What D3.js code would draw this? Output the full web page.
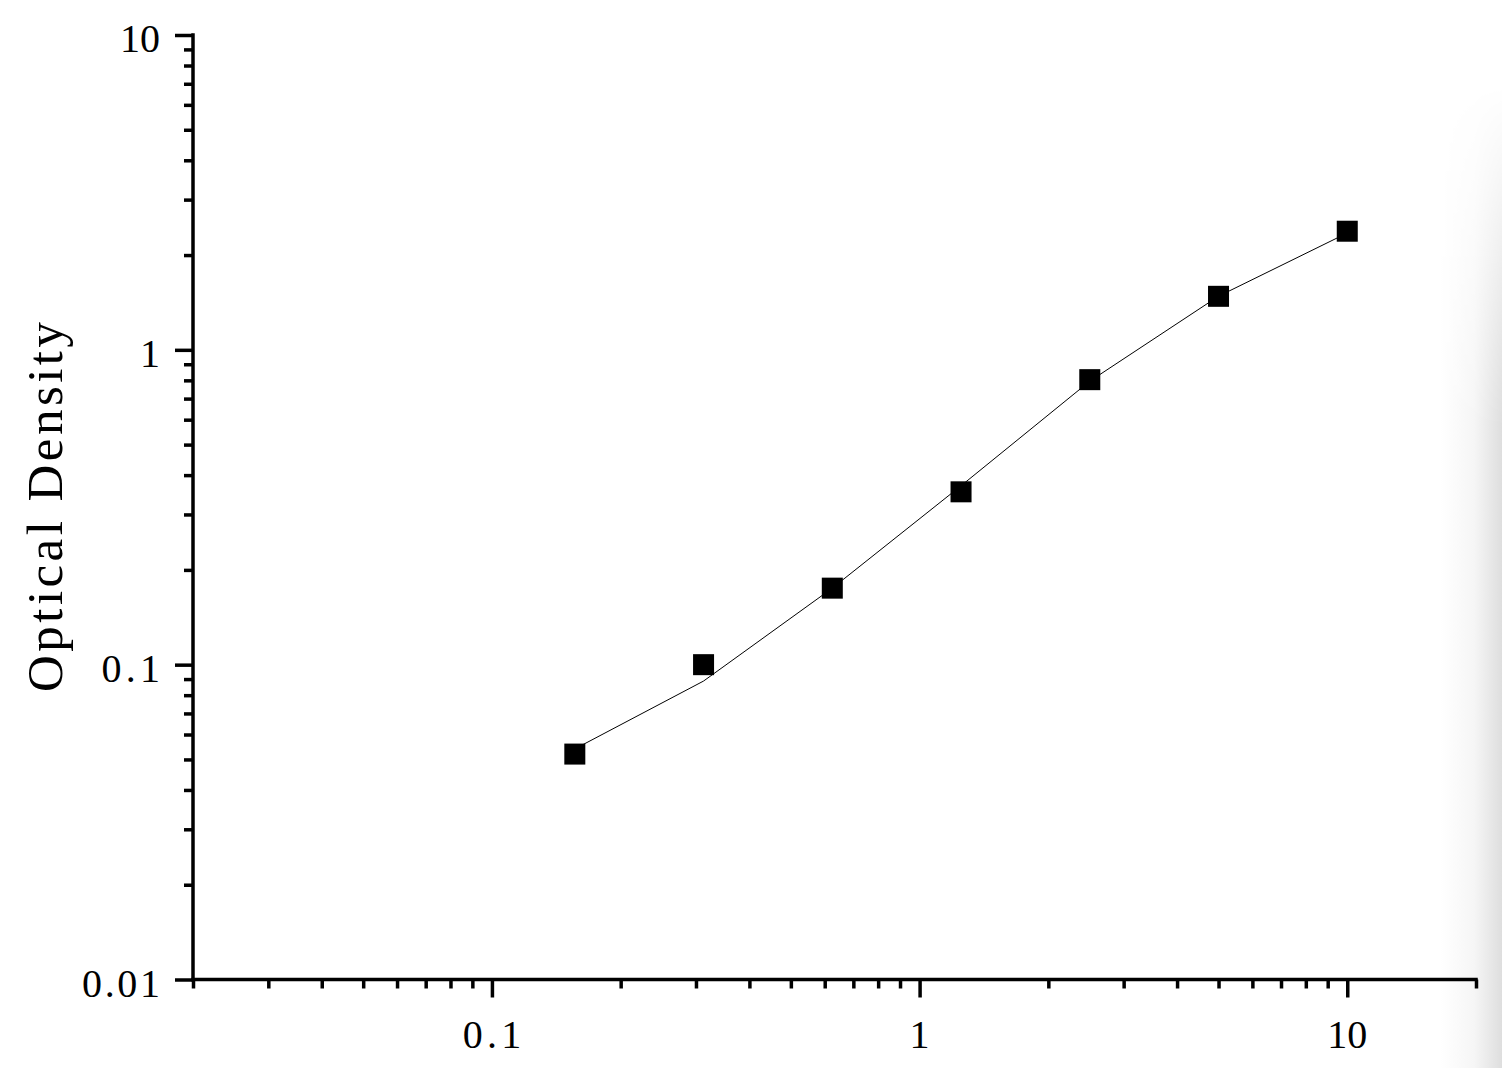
<!DOCTYPE html>
<html>
<head>
<meta charset="utf-8">
<script src="https://cdn.jsdelivr.net/npm/d3@7"></script>
<style>
  body { margin: 0; background: #fff; }
  svg { display: block; }
  text { font-family: "Liberation Serif", "DejaVu Serif", serif; fill: #000; }
</style>
</head>
<body>
<div id="chart"></div>
<script>
// standard concentrations (x) and measured optical density (y)
var concentrations = [0.15625, 0.3125, 0.625, 1.25, 2.5, 5, 10];
var odValues = [0.052, 0.100, 0.175, 0.354, 0.804, 1.479, 2.381];
// fitted curve as drawn, read at the same concentrations
var fittedValues = [0.054, 0.0887, 0.175, 0.370, 0.795, 1.48, 2.35];

var xMajorTicks = [0.1, 1, 10];
var xMinorTicks = [0.02, 0.03, 0.04, 0.05, 0.06, 0.07, 0.08, 0.09,
  0.2, 0.3, 0.4, 0.5, 0.6, 0.7, 0.8, 0.9,
  2, 3, 4, 5, 6, 7, 8, 9, 20];
var xTickLabels = ["0.1", "1", "10"];
var yMajorTicks = [0.01, 0.1, 1, 10];
var yMinorTicks = [0.02, 0.03, 0.04, 0.05, 0.06, 0.07, 0.08, 0.09,
  0.2, 0.3, 0.4, 0.5, 0.6, 0.7, 0.8, 0.9,
  2, 3, 4, 5, 6, 7, 8, 9];
var yTickLabels = ["0.01", "0.1", "1", "10"];
var yTitle = "Optical Density";

var width = 1506, height = 1068;

var svg = d3.select("#chart")
  .append("svg")
  .attr("width", width)
  .attr("height", height);

// soft page shadow on the right edge
var defs = svg.append("defs");
var hGrad = defs.append("linearGradient").attr("id", "hgrad")
  .attr("x1", 0).attr("x2", 1).attr("y1", 0).attr("y2", 0);
hGrad.append("stop").attr("offset", "0%").attr("stop-color", "#fff");
hGrad.append("stop").attr("offset", "55%").attr("stop-color", "#f6f6f6");
hGrad.append("stop").attr("offset", "100%").attr("stop-color", "#dedede");
var vGrad = defs.append("linearGradient").attr("id", "vgrad")
  .attr("x1", 0).attr("x2", 0).attr("y1", 0).attr("y2", 1);
vGrad.append("stop").attr("offset", "8%").attr("stop-color", "#fff").attr("stop-opacity", 0);
vGrad.append("stop").attr("offset", "40%").attr("stop-color", "#fff").attr("stop-opacity", 1);
var mask = defs.append("mask").attr("id", "shadeMask");
mask.append("rect").attr("x", 1440).attr("y", 0).attr("width", 66).attr("height", height)
  .attr("fill", "url(#vgrad)");
svg.append("rect")
  .attr("x", 1440).attr("y", 0).attr("width", 62).attr("height", height)
  .attr("fill", "url(#hgrad)")
  .attr("mask", "url(#shadeMask)");

var x = d3.scaleLog().domain([0.02, 20]).range([193, 1476]);
var y = d3.scaleLog().domain([0.01, 10]).range([979.5, 35]);

var axisW = 3.5;

// x axis
var gx = svg.append("g").attr("transform", "translate(0," + y(0.01) + ")");
gx.call(d3.axisBottom(x).tickValues(xMinorTicks).tickSize(9).tickSizeOuter(0).tickFormat(""));
gx.call(function (g) { g.select(".domain").remove() });
var gx2 = svg.append("g").attr("transform", "translate(0," + y(0.01) + ")");
gx2.call(d3.axisBottom(x).tickValues(xMajorTicks).tickSize(18).tickSizeOuter(0).tickFormat(""));
svg.selectAll("g line, g path").attr("stroke", "#000").attr("stroke-width", axisW);
gx2.select(".domain").attr("d", "M" + (x(0.02) - 1.75) + ",0H" + (x(20) + 1.75));

// y axis
var gy = svg.append("g").attr("transform", "translate(" + x(0.02) + ",0)");
gy.call(d3.axisLeft(y).tickValues(yMinorTicks).tickSize(9).tickSizeOuter(0).tickFormat(""));
gy.call(function (g) { g.select(".domain").remove() });
var gy2 = svg.append("g").attr("transform", "translate(" + x(0.02) + ",0)");
gy2.call(d3.axisLeft(y).tickValues(yMajorTicks).tickSize(18).tickSizeOuter(0).tickFormat(""));
svg.selectAll("g line, g path").attr("stroke", "#000").attr("stroke-width", axisW).attr("fill", "none");
gy2.select(".domain").attr("d", "M0," + (y(10) - 1.75) + "V" + (y(0.01) + 1.75));

// tick labels
svg.append("g").selectAll("text")
  .data(xMajorTicks)
  .enter().append("text")
  .attr("x", function (d) { return x(d) })
  .attr("y", 1048)
  .attr("text-anchor", "middle")
  .attr("font-size", 40)
  .each(function (d, i) {
    var t = d3.select(this).text(xTickLabels[i]);
    if (xTickLabels[i].indexOf(".") > -1) {
      t.attr("textLength", xTickLabels[i].length * 19.5).attr("lengthAdjust", "spacing");
    }
  });

svg.append("g").selectAll("text")
  .data(yMajorTicks)
  .enter().append("text")
  .attr("x", 160)
  .attr("y", function (d) { return y(d) + 17 })
  .attr("text-anchor", "end")
  .attr("font-size", 40)
  .each(function (d, i) {
    var t = d3.select(this).text(yTickLabels[i]);
    if (yTickLabels[i].indexOf(".") > -1) {
      t.attr("textLength", yTickLabels[i].length * 19.5).attr("lengthAdjust", "spacing");
    }
  });

// axis title
svg.append("text")
  .attr("transform", "translate(62,507) rotate(-90)")
  .attr("text-anchor", "middle")
  .attr("font-size", 51)
  .attr("textLength", 370)
  .attr("lengthAdjust", "spacing")
  .text(yTitle);

// fitted curve
var line = d3.line()
  .x(function (d) { return x(d[0]) })
  .y(function (d) { return y(d[1]) });

svg.append("path")
  .datum(d3.zip(concentrations, fittedValues))
  .attr("d", line)
  .attr("fill", "none")
  .attr("stroke", "#000")
  .attr("stroke-width", 1);

// standard points
var size = 21;
svg.append("g").selectAll("rect")
  .data(d3.zip(concentrations, odValues))
  .enter().append("rect")
  .attr("x", function (d) { return x(d[0]) - size / 2 })
  .attr("y", function (d) { return y(d[1]) - size / 2 })
  .attr("width", size)
  .attr("height", size)
  .attr("fill", "#000");
</script>
</body>
</html>
